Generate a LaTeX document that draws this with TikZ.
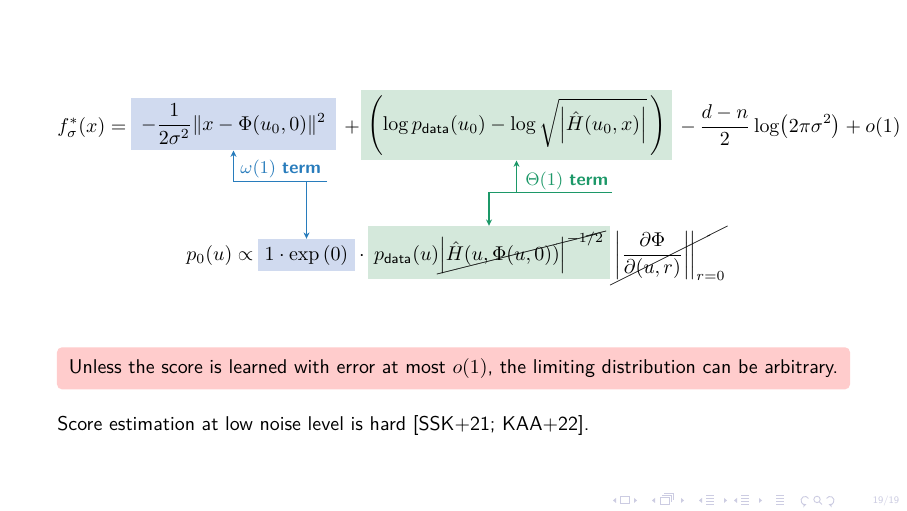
\documentclass[tikz,border=0pt]{standalone}
\usepackage{amsmath,amssymb}
\usepackage{cancel}
\usetikzlibrary{arrows.meta}
\definecolor{bluebox}{RGB}{208,218,239}
\definecolor{greenbox}{RGB}{212,232,219}
\definecolor{bluet}{RGB}{40,124,188}
\definecolor{greent}{RGB}{28,152,104}
\definecolor{redbox}{RGB}{255,204,204}
\definecolor{navc}{RGB}{204,204,226}
\tikzset{
  bbox/.style={fill=bluebox, inner sep=0pt},
  gbox/.style={fill=greenbox, inner sep=0pt},
  txt/.style={inner sep=0pt, anchor=base west},
  bline/.style={draw=bluet, line width=0.6pt},
  gline/.style={draw=greent, line width=0.6pt},
  tip/.style={-{Stealth[length=3.2pt,width=3pt]}},
  navs/.style={fill=navc, draw=none},
  navl/.style={draw=navc, line width=0.45pt}
}
\begin{document}
\begin{tikzpicture}[x=0.017641cm, y=-0.017647cm, font=\sffamily]
\useasboundingbox[fill=white] (0,0) rectangle (907,510);

% ---------- top row ----------
\node[txt] (f) at (57,132) {$f^*_\sigma(x) =$};
\node[bbox, minimum width=102.9pt, minimum height=26.1pt] (B1) at (233.5,124)
  {$\displaystyle -\frac{1}{2\sigma^2}\|x-\Phi(u_0,0)\|^2$};
\node[inner sep=0pt, anchor=base] (plus) at (352,132) {$+$};
\node[gbox, minimum width=156.1pt, minimum height=35.1pt] (G1) at (516.5,125)
  {$\displaystyle \left(\log p_{\mathsf{data}}(u_0) - \log\sqrt{\left|\hat H(u_0,x)\right|}\,\right)$};
\node[txt] (rest) at (680,132)
  {$\displaystyle -\,\frac{d-n}{2}\log\bigl(2\pi\sigma^2\bigr)+o(1)$};

% ---------- bottom row ----------
\node[txt] (p0) at (186,260) {$p_0(u) \propto$};
\node[bbox, minimum width=48.7pt, minimum height=16.1pt] (B2) at (306.5,255)
  {$1\cdot\exp\left(0\right)$};
\node[inner sep=0pt, anchor=base] (dot) at (362,260) {$\cdot$};
\node[gbox, minimum width=121.5pt, minimum height=26.6pt] (G2) at (489,252.5)
  {$\displaystyle p_{\mathsf{data}}(u)\cancel{\left|\hat H(u,\Phi(u,0))\right|^{-1/2}}$};
\node[txt] (jac) at (612,260)
  {$\displaystyle \cancel{\left.\left|\frac{\partial\Phi}{\partial(u,r)}\right|\right|_{r=0}}$};

% ---------- omega annotation ----------
\node[txt, text=bluet, font=\sffamily\small] (wl) at (240,173) {$\omega(1)$ \textbf{term}};
\coordinate (bR) at (327,181);
\coordinate (bL) at (B1.south |- bR);
\draw[bline, tip] (bR) -- (bL) -- (B1.south);
\draw[bline, tip] (B2.north |- bR) -- (B2.north);

% ---------- Theta annotation ----------
\node[txt, text=greent, font=\sffamily\small] (tl) at (525,185) {$\Theta(1)$ \textbf{term}};
\coordinate (gR) at (612,192);
\coordinate (gL) at (G2.north |- gR);
\draw[gline, tip] (gR) -- (gL) -- (G2.north);
\draw[gline, tip] (G1.south |- gR) -- (G1.south);

% ---------- alert box ----------
\node[fill=redbox, rounded corners=2.5pt, inner sep=0pt,
      minimum width=398pt, minimum height=21.1pt] (alert) at (453.5,368)
  {Unless the score is learned with error at most $o(1)$, the limiting distribution can be arbitrary.};

\node[txt] (score) at (57,430) {Score estimation at low noise level is hard [SSK+21; KAA+22].};

% ---------- navigation symbols ----------
\foreach \a/\b in {613/637, 652/684, 699/727, 734/762}{
  \fill[navs] (\a,500) -- ++(3,-2.5) -- ++(0,5) -- cycle;
  \fill[navs] (\b,500) -- ++(-3,-2.5) -- ++(0,5) -- cycle;
}
\draw[navl] (620,496) rectangle (629,503);
\draw[navl] (660,497) rectangle (669,504);
\draw[navl] (662,495) -- (671,495) -- (671,502);
\draw[navl] (664,493) -- (673,493) -- (673,500);
\foreach \c in {710,745,780}{
  \draw[navl] (\c-4,495) -- (\c+4,495);
  \draw[navl] (\c-4,498) -- (\c+4,498);
  \draw[navl] (\c-4,501) -- (\c+4,501);
  \draw[navl] (\c-4,504) -- (\c+4,504);
}
\draw[navl, -{Stealth[length=2pt,width=2pt]}] (805,500) ++(-30:4) arc (-30:-290:4);
\draw[navl] (817,499) circle (3.2);
\draw[navl] (819.3,501.3) -- (822,504);
\draw[navl, -{Stealth[length=2pt,width=2pt]}] (830,500) ++(210:4) arc (210:470:4);
\node[inner sep=0pt, text=navc, font=\sffamily\tiny] (page) at (886,501) {19/19};
\end{tikzpicture}
\end{document}
